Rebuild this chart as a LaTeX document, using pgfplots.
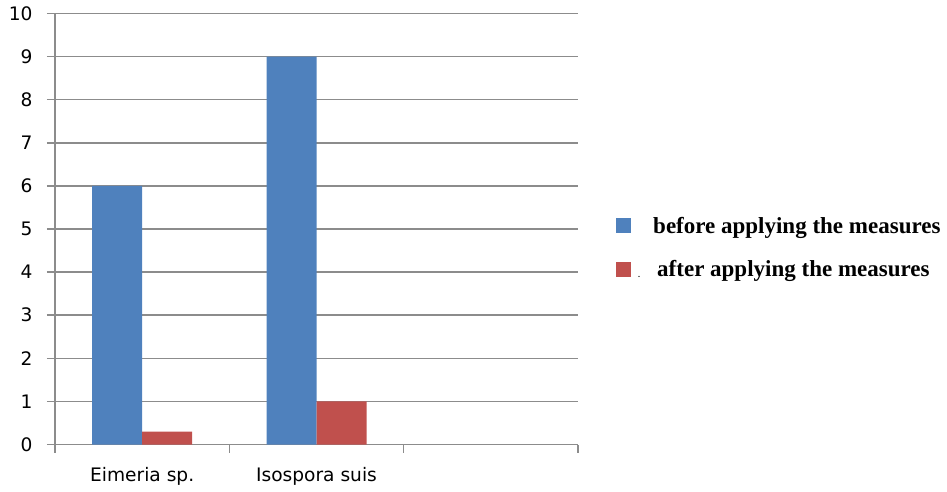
\documentclass[border=0pt]{standalone}
\usepackage{fontspec}
\setmainfont{DejaVu Sans}
\newfontfamily\legfont{Liberation Serif}
\usepackage{pgfplots}
\pgfplotsset{compat=1.18}
\definecolor{xlblue}{HTML}{4F81BD}
\definecolor{xlred}{HTML}{C0504D}
\definecolor{gridgray}{HTML}{8C8C8C}
\begin{document}
\begin{tikzpicture}
\path[use as bounding box] (-55pt,-46.5pt) rectangle (892pt,444.5pt);
\begin{axis}[
  scale only axis,
  width=523pt, height=431pt,
  anchor=south west, at={(0pt,0pt)},
  xmin=-0.5, xmax=2.5, ymin=0, ymax=10,
  ybar, bar width=50pt,
  axis lines*=left,
  axis line style={gridgray, line width=1.5pt},
  ymajorgrids, grid style={gridgray, line width=1.5pt},
  ytick={0,1,...,10},
  tick align=outside,
  major tick length=8pt,
  tick style={gridgray, line width=1.5pt},
  xtick={-0.5,0.5,1.5,2.5},
  xticklabels={},
  extra x ticks={0,1},
  extra x tick labels={Eimeria sp., Isospora suis},
  extra x tick style={major tick length=0pt, grid=none,
     xticklabel style={yshift=-19pt}},
  ticklabel style={font=\fontsize{18.6}{18.6}\selectfont, text=black},
  yticklabel style={xshift=-11pt},
  /pgf/number format/assume math mode=true,
  legend image code/.code={\fill[#1] (0pt,-7.5pt) rectangle (15pt,7.5pt);},
  legend style={draw=none, fill=none, inner sep=0pt,
     at={(1.0727,0.533)}, anchor=north west,
     font=\legfont\bfseries\fontsize{23}{23}\selectfont,
     row sep=22pt,
     /tikz/every even column/.append style={column sep=0pt}},
  legend cell align=left,
]
\addplot[fill=xlblue, draw=none, bar shift=-25pt] coordinates {(0,6) (1,9)};
\addplot[fill=xlred, draw=none, bar shift=25pt] coordinates {(0,0.3) (1,1)};
\legend{\hspace{20pt}before applying the measures,
        {\makebox[0pt][l]{\hspace{5pt}\raisebox{-1pt}{\fontsize{8}{8}\selectfont .}}\hspace{24pt}after applying the measures}}
\end{axis}
\end{tikzpicture}
\end{document}
